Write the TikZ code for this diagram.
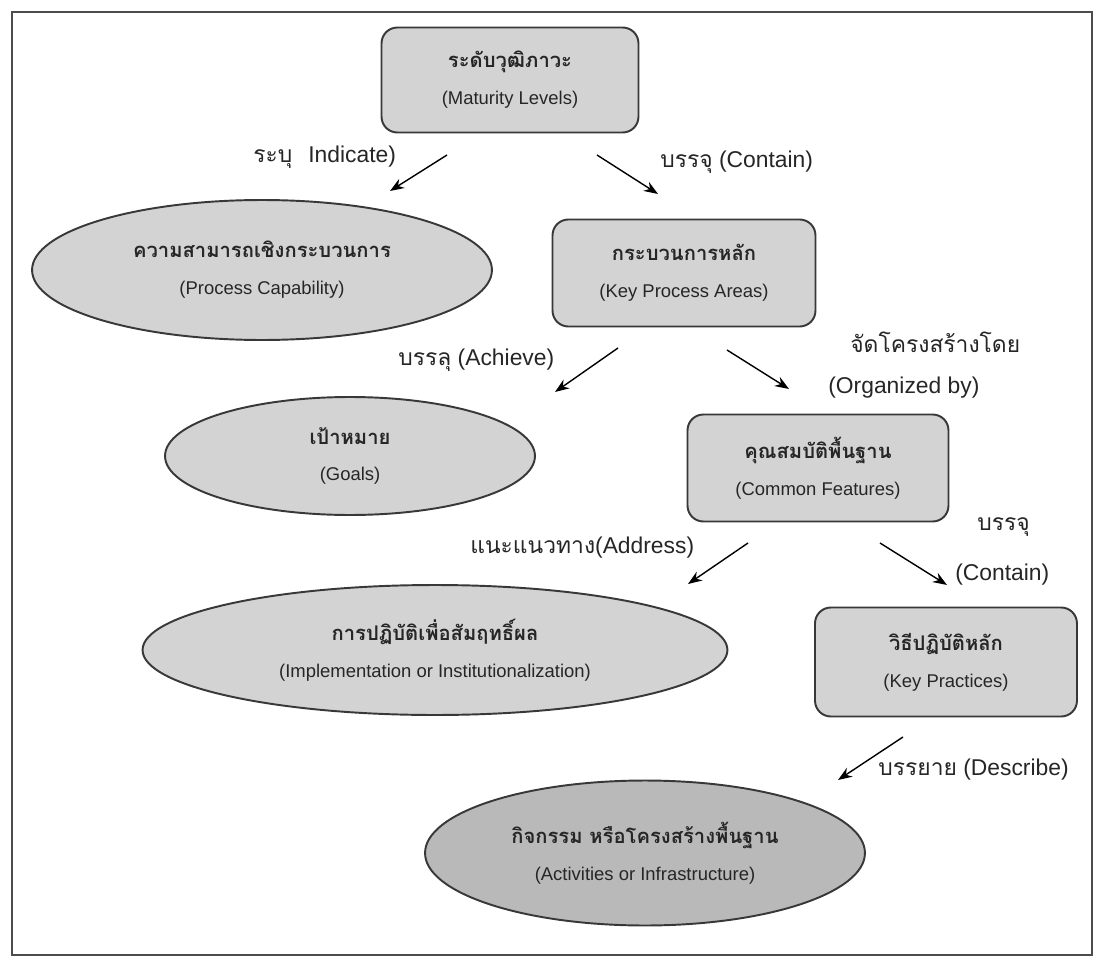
\documentclass[tikz,border=0pt]{standalone}
\usepackage{fontspec}
\setmainfont{Liberation Sans}
\newfontfamily\thaifont[Script=Thai]{Loma}
\usetikzlibrary{shapes.geometric,arrows.meta}
\definecolor{boxfill}{HTML}{D3D3D3}
\definecolor{darkfill}{HTML}{B9B9B9}
\definecolor{edgecol}{HTML}{383838}
\newcommand\twolines[2]{{\thaifont\bfseries\fontsize{11.5}{13}\selectfont #1}\\[8pt]{#2}}
\begin{document}
\begin{tikzpicture}[x=0.02cm,y=-0.02cm,
  basenode/.style={draw=edgecol, line width=1.1pt, align=center, inner sep=0pt,
    font=\fontsize{10.5}{13}\selectfont, text=black!85},
  boxnode/.style={basenode, rectangle, rounded corners=9pt, fill=boxfill},
  ovalnode/.style={basenode, ellipse, fill=boxfill},
  lbl/.style={font=\fontsize{13}{15}\selectfont, inner sep=0pt, anchor=west, text=black!85},
  arr/.style={-{Stealth[length=8pt,width=6pt]}, line width=0.8pt, black}]
\useasboundingbox (0,0) rectangle (1096,960);
\fill[white] (0,0) rectangle (1096,960);
\draw[line width=1pt, black!70] (12,12) rectangle (1092,955);

% nodes
\node[boxnode, minimum width=5.14cm, minimum height=2.1cm] (mat) at (510,80)
  {\twolines{ระดับวุฒิภาวะ}{(Maturity Levels)}};
\node[ovalnode, minimum width=9.2cm, minimum height=2.8cm] (pc) at (262,270)
  {\twolines{ความสามารถเชิงกระบวนการ}{(Process Capability)}};
\node[boxnode, minimum width=5.26cm, minimum height=2.14cm] (kpa) at (684,273)
  {\twolines{กระบวนการหลัก}{(Key Process Areas)}};
\node[ovalnode, minimum width=7.4cm, minimum height=2.36cm] (goal) at (350,456)
  {\twolines{เป้าหมาย}{(Goals)}};
\node[boxnode, minimum width=5.22cm, minimum height=2.14cm] (cf) at (818,468)
  {\twolines{คุณสมบัติพื้นฐาน}{(Common Features)}};
\node[ovalnode, minimum width=11.7cm, minimum height=2.6cm] (impl) at (435,650)
  {\twolines{การปฏิบัติเพื่อสัมฤทธิ์ผล}{(Implementation or Institutionalization)}};
\node[boxnode, minimum width=5.24cm, minimum height=2.18cm] (kp) at (946,662)
  {\twolines{วิธีปฏิบัติหลัก}{(Key Practices)}};
\node[ovalnode, fill=darkfill, minimum width=8.8cm, minimum height=2.9cm] (act) at (645,853)
  {\twolines{กิจกรรม หรือโครงสร้างพื้นฐาน}{(Activities or Infrastructure)}};

% arrow end points
\coordinate (a1s) at (447,155); \coordinate (a1e) at (390,191);
\coordinate (a2s) at (597,155); \coordinate (a2e) at (658,194);
\coordinate (a3s) at (618,348); \coordinate (a3e) at (555,392);
\coordinate (a4s) at (727,350); \coordinate (a4e) at (789,389);
\coordinate (a5s) at (748,543); \coordinate (a5e) at (688,584);
\coordinate (a6s) at (880,543); \coordinate (a6e) at (947,585);
\coordinate (a7s) at (903,737); \coordinate (a7e) at (838,780);

\draw[arr] (a1s) -- (a1e);
\draw[arr] (a2s) -- (a2e);
\draw[arr] (a3s) -- (a3e);
\draw[arr] (a4s) -- (a4e);
\draw[arr] (a5s) -- (a5e);
\draw[arr] (a6s) -- (a6e);
\draw[arr] (a7s) -- (a7e);

% labels
\node[lbl] (l1) at (253,157) {{\thaifont ระบุ}\hspace{0.7em}Indicate)};
\node[lbl] (l2) at (660,162) {{\thaifont บรรจุ} (Contain)};
\node[lbl] (l3) at (398,360) {{\thaifont บรรลุ} (Achieve)};
\node[lbl] (l4) at (850,342) {{\thaifont จัดโครงสร้างโดย}};
\node[lbl] (l5) at (828,388) {(Organized by)};
\node[lbl] (l6) at (470,548) {{\thaifont แนะแนวทาง}(Address)};
\node[lbl] (l7) at (977,527) {{\thaifont บรรจุ}};
\node[lbl] (l8) at (955,575) {(Contain)};
\node[lbl] (l9) at (878,770) {{\thaifont บรรยาย} (Describe)};
\end{tikzpicture}
\end{document}
